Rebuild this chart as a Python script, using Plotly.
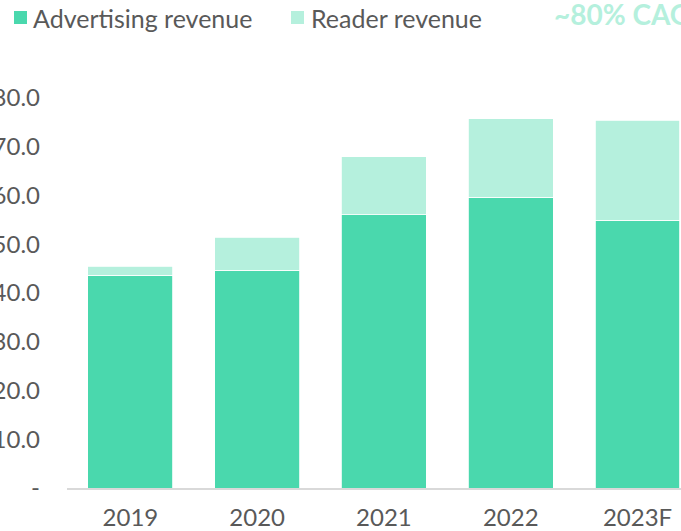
import plotly.graph_objects as go

years = ["2019", "2020", "2021", "2022", "2023F"]
advertising = [43.6, 44.7, 56.1, 59.6, 54.9]
reader = [1.9, 6.7, 11.8, 16.1, 20.5]
ytick_vals = [0, 10, 20, 30, 40, 50, 60, 70, 80]
ytick_text = ["-", "10.0", "20.0", "30.0", "40.0", "50.0", "60.0", "70.0", "80.0"]

ADV = "#4AD8AD"
RDR = "#B5F0DD"
TXT = "#595959"
FONT = "Lato"

# plot-area geometry in pixels (for decorative legend placement)
L, R, T, B = 67, 681, 98, 488
W, H = R - L, B - T


def px(x):
    return (x - L) / W


def py(y):
    return (B - y) / H


fig = go.Figure()
fig.add_trace(go.Bar(x=years, y=advertising, name="Advertising revenue",
                     marker=dict(color=ADV, line=dict(color="white", width=0.8))))
fig.add_trace(go.Bar(x=years, y=reader, name="Reader revenue",
                     marker=dict(color=RDR, line=dict(color="white", width=0.8))))

fig.update_layout(
    width=681, height=531,
    barmode="stack", bargap=0.33,
    showlegend=False,
    plot_bgcolor="white", paper_bgcolor="white",
    margin=dict(l=L, r=681 - R, t=T, b=531 - B, autoexpand=False),
    font=dict(family=FONT, color=TXT, size=24),
    xaxis=dict(range=[-0.5, 4.343], showline=True, linecolor="#D9D9D9", linewidth=1.5,
               showgrid=False, ticks="", ticklabelstandoff=7, automargin=False,
               tickfont=dict(size=24, color=TXT)),
    yaxis=dict(range=[0, 80], showgrid=False, zeroline=False, showline=False,
               tickvals=ytick_vals, ticktext=ytick_text, ticks="", automargin=False,
               ticklabelstandoff=26, tickfont=dict(size=24, color=TXT)),
)

# legend drawn as decorations
fig.add_shape(type="rect", xref="paper", yref="paper",
              x0=px(14), x1=px(27), y0=py(24), y1=py(11),
              fillcolor=ADV, line=dict(width=0))
fig.add_shape(type="rect", xref="paper", yref="paper",
              x0=px(291), x1=px(304), y0=py(24), y1=py(11),
              fillcolor=RDR, line=dict(width=0))
fig.add_annotation(text="Advertising revenue", xref="paper", yref="paper",
                   x=px(31), y=py(18), xanchor="left", yanchor="middle",
                   showarrow=False, font=dict(size=25, color=TXT, family=FONT))
fig.add_annotation(text="Reader revenue", xref="paper", yref="paper",
                   x=px(309), y=py(18), xanchor="left", yanchor="middle",
                   showarrow=False, font=dict(size=25, color=TXT, family=FONT))
fig.add_annotation(text="<b>~80% CAGR</b>", xref="paper", yref="paper",
                   x=px(552), y=py(14), xanchor="left", yanchor="middle",
                   showarrow=False, font=dict(size=28, color=RDR, family=FONT))

fig.write_html("out.html", config={"displayModeBar": False},
               post_script="document.body.style.margin='0';")
